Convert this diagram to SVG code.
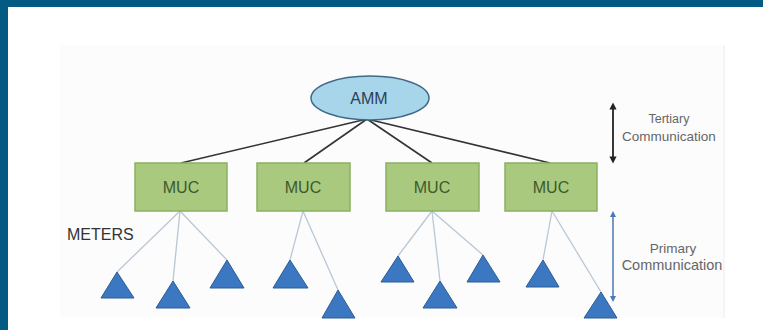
<svg xmlns="http://www.w3.org/2000/svg" width="763" height="330" viewBox="0 0 763 330">
<defs>
<style>
.muc rect{fill:#a8c97e;stroke:#8daf62;stroke-width:1.5}
.muc text{font-family:"Liberation Sans",Arial,sans-serif;font-size:16px;fill:#3d5a2c;text-anchor:middle}
.tri{fill:#3b78c1;stroke:#2b5c94;stroke-width:1}
.lbl{font-family:"Liberation Sans",Arial,sans-serif;fill:#666;text-anchor:middle}
</style>
<marker id="ab" viewBox="0 0 10 10" refX="5" refY="5" markerWidth="4" markerHeight="4" orient="auto-start-reverse"><path d="M0,0 L10,5 L0,10 Z" fill="#222"/></marker>
<marker id="abl" viewBox="0 0 10 10" refX="5" refY="5" markerWidth="4" markerHeight="4" orient="auto-start-reverse"><path d="M0,0 L10,5 L0,10 Z" fill="#4a78b8"/></marker>
</defs>
<rect x="0" y="0" width="763" height="330" fill="#ffffff"/>
<rect x="60" y="45" width="664" height="273" fill="#fcfcfc"/>
<line x1="724" y1="45" x2="724" y2="318" stroke="#ececec" stroke-width="1"/>
<rect x="0" y="0" width="763" height="7" fill="#035a82"/>
<rect x="0" y="0" width="8" height="330" fill="#035a82"/>

<g id="connectors">
<g stroke="#333" stroke-width="1.6">
<line x1="367" y1="119" x2="181" y2="163"/>
<line x1="367" y1="119" x2="304" y2="163"/>
<line x1="367" y1="119" x2="432" y2="163"/>
<line x1="367" y1="119" x2="550" y2="163"/>
</g>
<g stroke="#b9c7d6" stroke-width="1.3">
<line x1="180" y1="211" x2="117" y2="272"/>
<line x1="180" y1="211" x2="173" y2="281"/>
<line x1="180" y1="211" x2="227" y2="260"/>
<line x1="303" y1="211" x2="290" y2="260"/>
<line x1="303" y1="211" x2="338" y2="290"/>
<line x1="432" y1="211" x2="398" y2="256"/>
<line x1="432" y1="211" x2="440" y2="281"/>
<line x1="432" y1="211" x2="483" y2="255"/>
<line x1="552" y1="211" x2="543" y2="260"/>
<line x1="552" y1="211" x2="601" y2="292"/>
</g>
</g>

<g id="amm">
<ellipse cx="370" cy="98" rx="59" ry="22" fill="#a7d5ea" stroke="#41698a" stroke-width="1.5"/>
<text x="369" y="104" font-family="Liberation Sans,Arial,sans-serif" font-size="16" fill="#2c3f56" text-anchor="middle">AMM</text>
</g>

<g id="muc1" class="muc"><rect x="135" y="163" width="92" height="48"/><text x="181" y="193">MUC</text></g>
<g id="muc2" class="muc"><rect x="257" y="163" width="93" height="48"/><text x="303" y="193">MUC</text></g>
<g id="muc3" class="muc"><rect x="386" y="163" width="93" height="48"/><text x="432" y="193">MUC</text></g>
<g id="muc4" class="muc"><rect x="505" y="163" width="92" height="48"/><text x="551" y="193">MUC</text></g>

<g id="meters-label"><text x="67" y="240" font-family="Liberation Sans,Arial,sans-serif" font-size="16" fill="#333">METERS</text></g>

<g id="m1"><polygon class="tri" points="117,272 134,298 101,298"/></g>
<g id="m2"><polygon class="tri" points="173,281 190,308 156,308"/></g>
<g id="m3"><polygon class="tri" points="227,260 244,288 210,288"/></g>
<g id="m4"><polygon class="tri" points="290,260 308,288 273,288"/></g>
<g id="m5"><polygon class="tri" points="338,290 355,318 322,318"/></g>
<g id="m6"><polygon class="tri" points="398,256 414,282 381,282"/></g>
<g id="m7"><polygon class="tri" points="440,281 457,308 423,308"/></g>
<g id="m8"><polygon class="tri" points="483,255 500,282 467,282"/></g>
<g id="m9"><polygon class="tri" points="543,260 559,287 526,287"/></g>
<g id="m10"><polygon class="tri" points="601,292 617,318 584,318"/></g>

<g id="tertiary">
<line x1="613" y1="106" x2="613" y2="160" stroke="#222" stroke-width="1.8" marker-start="url(#ab)" marker-end="url(#ab)"/>
<text class="lbl" x="669" y="123" font-size="12.5">Tertiary</text>
<text class="lbl" x="669" y="141" font-size="13.5">Communication</text>
</g>

<g id="primary">
<line x1="613" y1="214" x2="613" y2="299" stroke="#4a78b8" stroke-width="1.5" marker-start="url(#abl)" marker-end="url(#abl)"/>
<text class="lbl" x="673" y="253" font-size="13.5">Primary</text>
<text class="lbl" x="672" y="270" font-size="14.5">Communication</text>
</g>
</svg>
